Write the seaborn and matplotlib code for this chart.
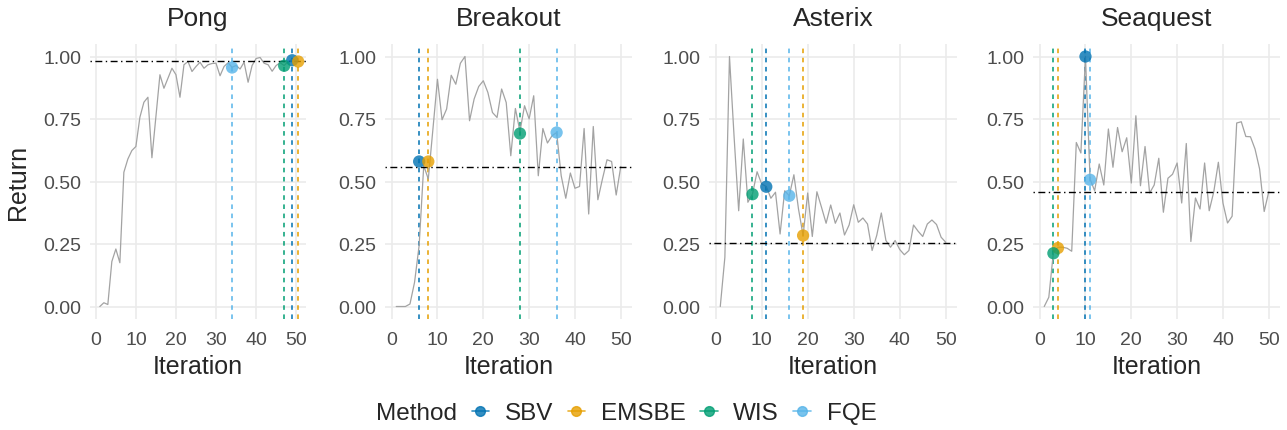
import numpy as np
import pandas as pd
import matplotlib
matplotlib.use('Agg')
import matplotlib.pyplot as plt
import seaborn as sns
from matplotlib.lines import Line2D

GAMES = ['Pong', 'Breakout', 'Asterix', 'Seaquest']
METHODS = ['SBV', 'EMSBE', 'WIS', 'FQE']
COLORS = {'SBV': '#0072B2', 'EMSBE': '#E69F00', 'WIS': '#009E73', 'FQE': '#56B4E9'}

iterations = list(range(1, 51))

# normalised return of the policy at each iteration
pong_return = [0.0, 0.015, 0.008, 0.18, 0.23, 0.175, 0.537, 0.59, 0.624, 0.64,
               0.757, 0.817, 0.837, 0.595, 0.76, 0.927, 0.873, 0.913, 0.953, 0.927,
               0.837, 0.967, 0.98, 0.94, 0.96, 0.977, 0.953, 0.967, 0.972, 0.973,
               0.923, 0.96, 0.975, 0.957, 0.964, 0.95, 0.977, 0.897, 0.964, 0.992,
               0.996, 0.973, 0.967, 0.941, 0.964, 0.975, 0.964, 0.98, 0.988, 0.984]
breakout_return = [0.0, 0.0, 0.0, 0.01, 0.097, 0.244, 0.563, 0.51, 0.708, 0.909,
                   0.747, 0.79, 0.925, 0.889, 0.973, 1.0, 0.743, 0.83, 0.88, 0.903,
                   0.856, 0.776, 0.756, 0.87, 0.816, 0.603, 0.792, 0.70, 0.803, 0.75,
                   0.843, 0.523, 0.712, 0.654, 0.683, 0.696, 0.523, 0.433, 0.534, 0.473,
                   0.48, 0.712, 0.37, 0.72, 0.427, 0.51, 0.587, 0.58, 0.446, 0.56]
asterix_return = [0.0, 0.197, 1.0, 0.68, 0.383, 0.67, 0.417, 0.45, 0.539, 0.49,
                  0.48, 0.433, 0.457, 0.29, 0.463, 0.443, 0.527, 0.39, 0.284, 0.454,
                  0.28, 0.459, 0.397, 0.333, 0.406, 0.333, 0.374, 0.286, 0.326, 0.407,
                  0.337, 0.354, 0.33, 0.224, 0.284, 0.374, 0.264, 0.237, 0.264, 0.228,
                  0.207, 0.224, 0.326, 0.301, 0.28, 0.33, 0.346, 0.328, 0.277, 0.257]
seaquest_return = [0.0, 0.037, 0.217, 0.237, 0.237, 0.233, 0.221, 0.656, 0.614, 1.0,
                   0.51, 0.463, 0.57, 0.486, 0.71, 0.557, 0.716, 0.619, 0.675, 0.494,
                   0.763, 0.483, 0.64, 0.454, 0.486, 0.593, 0.377, 0.513, 0.529, 0.574,
                   0.414, 0.652, 0.26, 0.434, 0.39, 0.574, 0.383, 0.459, 0.577, 0.414,
                   0.334, 0.361, 0.734, 0.739, 0.68, 0.679, 0.63, 0.55, 0.38, 0.459]

# iteration picked by each method (order SBV, EMSBE, WIS, FQE) and its return
pong_pick = [49, 50.5, 47, 34]
pong_pick_return = [0.985, 0.98, 0.963, 0.956]
breakout_pick = [6, 8, 28, 36]
breakout_pick_return = [0.58, 0.58, 0.692, 0.696]
asterix_pick = [11, 19, 8, 16]
asterix_pick_return = [0.479, 0.284, 0.449, 0.443]
seaquest_pick = [10, 4, 3, 11]
seaquest_pick_return = [1.0, 0.234, 0.213, 0.507]

# dash-dot reference level per game
reference_return = [0.983, 0.559, 0.256, 0.459]

returns = [pong_return, breakout_return, asterix_return, seaquest_return]
picks = [pong_pick, breakout_pick, asterix_pick, seaquest_pick]
pick_returns = [pong_pick_return, breakout_pick_return, asterix_pick_return, seaquest_pick_return]

curves = pd.concat([pd.DataFrame({'game': g, 'iteration': iterations, 'return': r})
                    for g, r in zip(GAMES, returns)])
chosen = pd.concat([pd.DataFrame({'game': g, 'method': METHODS, 'iteration': p, 'return': v})
                    for g, p, v in zip(GAMES, picks, pick_returns)])

sns.set_theme(style='whitegrid')
plt.rcParams['font.family'] = ['Liberation Sans', 'DejaVu Sans']

W, H = 1287, 431
fig = plt.figure(figsize=(W / 100, H / 100), dpi=100)

# panel extents in pixels (left, right); top/bottom shared
panel_px = [(90, 306), (385, 632), (709, 957), (1033, 1280)]
top_px, bottom_px = 45, 320

for i, game in enumerate(GAMES):
    l, r = panel_px[i]
    ax = fig.add_axes([l / W, 1 - bottom_px / H, (r - l) / W, (bottom_px - top_px) / H])

    for m, x in zip(METHODS, picks[i]):
        ax.axvline(x, color=COLORS[m], lw=1.1, ls=(0, (3, 3)), zorder=2)

    sns.lineplot(data=curves[curves.game == game], x='iteration', y='return',
                 color='#A3A3A3', lw=0.9, ax=ax, zorder=3)
    ax.axhline(reference_return[i], color='black', lw=1.0,
               ls=(0, (1, 2.5, 5, 2.5)), zorder=3)
    sns.scatterplot(data=chosen[chosen.game == game], x='iteration', y='return',
                    hue='method', palette=COLORS, hue_order=METHODS, s=78, alpha=0.8,
                    edgecolor='none', legend=False, ax=ax, zorder=4)

    ax.set_xlim(-1.45, 52.45)
    ax.set_ylim(-0.05, 1.05)
    ax.set_xticks([0, 10, 20, 30, 40, 50])
    ax.set_yticks([0, 0.25, 0.5, 0.75, 1.0])
    ax.set_yticklabels(['0.00', '0.25', '0.50', '0.75', '1.00'])
    ax.set_facecolor('white')
    ax.grid(color='#EBEBEB', lw=1.2)
    for s in ax.spines.values():
        s.set_visible(False)
    ax.tick_params(length=0, labelsize=14, labelcolor='#4D4D4D')
    ax.tick_params(axis='x', pad=9)
    ax.tick_params(axis='y', pad=6)

    ax.set_xlabel('Iteration', fontsize=18)
    ax.xaxis.set_label_coords(0.5, -0.171)
    ax.xaxis.label.set_va('center')
    if i == 0:
        ax.set_ylabel('Return', fontsize=18)
        ax.yaxis.set_label_coords((18 - l) / (r - l), 0.5)
        ax.yaxis.label.set_va('center')
    else:
        ax.set_ylabel('')
    ax.text(0.5, 1.095, game, transform=ax.transAxes, ha='center', va='center', fontsize=19)

# legend along the bottom
fig.text(416 / W, 1 - 414 / H, 'Method', ha='center', va='center', fontsize=17.5)
handles = [Line2D([], [], color=COLORS[m], marker='o', ms=7, lw=1.2, alpha=0.8) for m in METHODS]
fig.legend(handles, METHODS, loc='center', bbox_to_anchor=(674 / W, 1 - 414 / H),
           ncol=4, frameon=False, fontsize=17.5, handlelength=0.72, handletextpad=0.64,
           columnspacing=0.6, borderaxespad=0, borderpad=0)

fig.savefig('out.png', dpi=100, facecolor='white')
